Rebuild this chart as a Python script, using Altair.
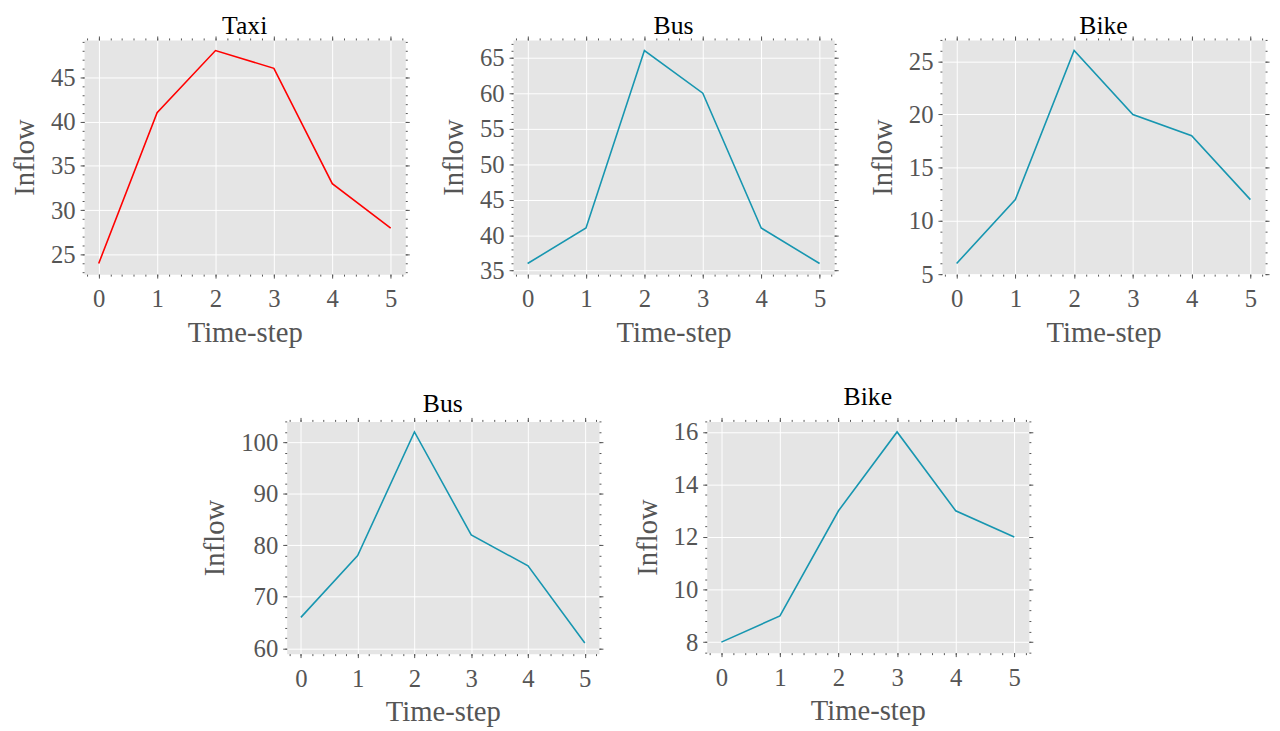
import altair as alt
import pandas as pd

steps = [0, 1, 2, 3, 4, 5]
taxi_top = [24, 41, 48, 46, 33, 28]
bus_top = [36, 41, 66, 60, 41, 36]
bike_top = [6, 12, 26, 20, 18, 12]
bus_bottom = [66, 78, 102, 82, 76, 61]
bike_bottom = [8, 9, 13, 16, 13, 12]

FONT = "Liberation Serif"
GRAY = "#555555"
BG = "#E5E5E5"
RED = "#FF0000"
TEAL = "#1796B0"

x_major = [0, 1, 2, 3, 4, 5]
x_minor = [round(-0.2 + 0.2 * i, 2) for i in range(28)]


def frange(a, b, s):
    out = []
    v = a
    while v <= b + 1e-9:
        out.append(round(v, 4))
        v += s
    return out


def panel(title, values, color, ydom, ymajor, ystep_minor, width, height, title_offset=-3):
    df = pd.DataFrame({"t": steps, "v": values})
    xs = alt.Scale(domain=[-0.25, 5.25], nice=False, zero=False)
    ys = alt.Scale(domain=ydom, nice=False, zero=False)
    yminor = [v for v in frange(ydom[0] - ydom[0] % ystep_minor, ydom[1], ystep_minor) if ydom[0] <= v <= ydom[1]]
    xminor = [v for v in x_minor if -0.25 <= v <= 5.25]

    def ax(orient, vals, size, labels, grid, title_text=None):
        kw = dict(
            orient=orient, values=vals, tickSize=size, tickColor=GRAY, tickWidth=1,
            domain=False, labels=labels, grid=grid, gridColor="white", gridWidth=1,
            labelFont=FONT, labelFontSize=25, labelColor=GRAY,
            labelPadding=(9 if orient == "bottom" else 5),
            titleFont=FONT, titleFontSize=29, titleColor=GRAY, titleFontWeight="normal",
            titlePadding=(7 if orient == "bottom" else 11),
        )
        kw["title"] = title_text if title_text is not None else ""
        return alt.Axis(**kw)

    base = alt.Chart(df)
    main = base.mark_line(color=color, strokeWidth=1.6).encode(
        x=alt.X("t:Q", scale=xs, axis=ax("bottom", x_major, 4, True, True, "Time-step")),
        y=alt.Y("v:Q", scale=ys, axis=ax("left", ymajor, 4, True, True, "Inflow")),
    )
    top_major = base.mark_line(opacity=0).encode(
        x=alt.X("t:Q", scale=xs, axis=ax("top", x_major, 4, False, False)),
        y=alt.Y("v:Q", scale=ys, axis=ax("right", ymajor, 4, False, False)),
    )
    minor_bl = base.mark_line(opacity=0).encode(
        x=alt.X("t:Q", scale=xs, axis=ax("bottom", xminor, 2, False, False)),
        y=alt.Y("v:Q", scale=ys, axis=ax("left", yminor, 2, False, False)),
    )
    minor_tr = base.mark_line(opacity=0).encode(
        x=alt.X("t:Q", scale=xs, axis=ax("top", xminor, 2, False, False)),
        y=alt.Y("v:Q", scale=ys, axis=ax("right", yminor, 2, False, False)),
    )
    return alt.layer(main, top_major, minor_bl, minor_tr).resolve_axis(
        x="independent", y="independent"
    ).properties(
        width=width, height=height,
        view=alt.ViewBackground(fill=BG, stroke="transparent"),
        title=alt.TitleParams(title, font=FONT, fontSize=26, color="black",
                              fontWeight="normal", offset=title_offset),
    )


p1 = panel("Taxi", taxi_top, RED, [22.8, 49.2], [25, 30, 35, 40, 45], 1, 325, 237)
p2 = panel("Bus", bus_top, TEAL, [34.5, 67.5], [35, 40, 45, 50, 55, 60, 65], 1, 325, 237)
p3 = panel("Bike", bike_top, TEAL, [5, 27], [5, 10, 15, 20, 25], 1, 327, 237)
p4 = panel("Bus", bus_bottom, TEAL, [58.95, 104.05], [60, 70, 80, 90, 100], 2, 316, 235, title_offset=0)
p5 = panel("Bike", bike_bottom, TEAL, [7.6, 16.4], [8, 10, 12, 14, 16], 0.4, 326, 234, title_offset=7)

spacer = alt.Chart(pd.DataFrame({"a": [0]})).mark_point(opacity=0).encode(
    x=alt.X("a:Q", axis=None), y=alt.Y("a:Q", axis=None)
).properties(width=88, height=10, view=alt.ViewBackground(fill="transparent", stroke="transparent"))

top = alt.hconcat(p1, p2, p3, spacing=29)
bottom = alt.hconcat(spacer, p4, p5, spacing=29)

chart = alt.vconcat(top, bottom, spacing=36).properties(
    padding={"left": 2, "top": 0, "right": 2, "bottom": 2}
).configure_view(stroke="transparent").configure(background="white")

chart.save("out.html", embed_options={"renderer": "svg", "actions": False})
